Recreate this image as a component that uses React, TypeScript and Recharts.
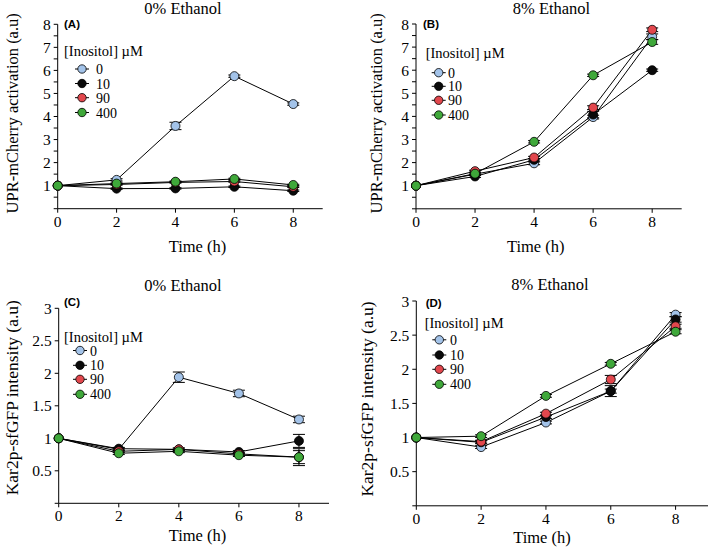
import { LineChart, Line, XAxis, YAxis, ErrorBar } from "recharts";

const times = [0, 2, 4, 6, 8];
const xTicks = [0, 2, 4, 6, 8];
const uprTicks = [0, 0.5, 1, 1.5, 2, 2.5, 3, 3.5, 4, 4.5, 5, 5.5, 6, 6.5, 7, 7.5, 8];
const karTicks = [0, 0.5, 1, 1.5, 2, 2.5, 3];

const inositolLabels = ["0", "10", "90", "400"];
const seriesColors = ["#a3c3e9", "#0a0a0a", "#e2474d", "#3fa83a"];

// panel A: UPR, 0% ethanol
const uprNoEth = [
  [1, 1.25, 3.59, 5.75, 4.54],
  [1, 0.87, 0.88, 0.95, 0.78],
  [1, 1.05, 1.14, 1.18, 0.95],
  [1, 1.09, 1.17, 1.29, 1.03],
];
const uprNoEthErr = [
  [0, 0.05, 0.16, 0.05, 0.05],
  [0, 0.03, 0.03, 0.03, 0.03],
  [0, 0.03, 0.03, 0.03, 0.03],
  [0, 0.03, 0.03, 0.03, 0.03],
];

// panel B: UPR, 8% ethanol
const uprEth = [
  [1, 1.5, 1.97, 3.97, 7.45],
  [1, 1.4, 2.12, 4.08, 6.0],
  [1, 1.63, 2.22, 4.38, 7.75],
  [1, 1.52, 2.9, 5.78, 7.22],
];
const uprEthErr = [
  [0, 0.05, 0.06, 0.08, 0.12],
  [0, 0.04, 0.05, 0.14, 0.05],
  [0, 0.04, 0.05, 0.08, 0.08],
  [0, 0.04, 0.05, 0.05, 0.1],
];

// panel C: Kar2p, 0% ethanol
const karNoEth = [
  [1, 0.83, 1.94, 1.69, 1.29],
  [1, 0.84, 0.83, 0.79, 0.96],
  [1, 0.8, 0.83, 0.76, 0.71],
  [1, 0.77, 0.8, 0.74, 0.71],
];
const karNoEthErr = [
  [0, 0.02, 0.08, 0.05, 0.05],
  [0, 0.02, 0.02, 0.02, 0.1],
  [0, 0.02, 0.02, 0.02, 0.1],
  [0, 0.02, 0.02, 0.02, 0.13],
];

// panel D: Kar2p, 8% ethanol
const karEth = [
  [1, 0.86, 1.22, 1.68, 2.8],
  [1, 0.93, 1.3, 1.68, 2.73],
  [1, 0.94, 1.35, 1.85, 2.63],
  [1, 1.02, 1.61, 2.08, 2.55],
];
const karEthErr = [
  [0, 0.02, 0.02, 0.03, 0.03],
  [0, 0.02, 0.02, 0.08, 0.04],
  [0, 0.02, 0.02, 0.06, 0.03],
  [0, 0.02, 0.02, 0.02, 0.03],
];

const serif = "Liberation Serif, DejaVu Serif, serif";
const tickStyle = { fontFamily: serif, fontSize: 15.5, fill: "#000" };

type PanelProps = {
  left: number;
  top: number;
  width: number;
  height: number;
  plotLeft: number;
  plotRight: number;
  plotTop: number;
  plotBottom: number;
  values: number[][];
  errors: number[][];
  yMax: number;
  yTicks: number[];
  wholeOnly: boolean;
};

function Panel(p: PanelProps) {
  const rows = times.map((t, i) => {
    const row: Record<string, number> = { t };
    p.values.forEach((s, k) => {
      row["s" + k] = s[i];
      row["e" + k] = p.errors[k][i];
    });
    return row;
  });

  const yAxisWidth = p.plotLeft - p.left;

  return (
    <div style={{ position: "absolute", left: p.left, top: p.top }}>
      <LineChart
        width={p.width}
        height={p.height}
        data={rows}
        style={{ fontFamily: serif }}
        margin={{
          top: p.plotTop - p.top,
          right: p.left + p.width - p.plotRight,
          bottom: p.top + p.height - p.plotBottom - 30,
          left: 0,
        }}
      >
        <XAxis
          dataKey="t"
          type="number"
          domain={[0, 9]}
          ticks={xTicks}
          interval={0}
          height={30}
          tickSize={4}
          tickMargin={3}
          tick={tickStyle}
          stroke="#000"
          tickLine={{ stroke: "#000" }}
        />
        <YAxis
          type="number"
          domain={[0, p.yMax]}
          ticks={p.yTicks}
          interval={0}
          width={yAxisWidth}
          tickSize={4}
          tickMargin={3}
          tick={tickStyle}
          stroke="#000"
          tickLine={{ stroke: "#000" }}
          tickFormatter={(v: number) =>
            v === 0 ? "" : p.wholeOnly ? (Number.isInteger(v) ? String(v) : "") : String(v)
          }
        />
        {p.values.map((_, k) => (
          <Line
            key={k}
            dataKey={"s" + k}
            name={inositolLabels[k]}
            type="linear"
            stroke="#000"
            strokeWidth={1}
            dot={{ r: 4.5, fill: seriesColors[k], stroke: "#000", strokeWidth: 0.8 }}
            isAnimationActive={false}
          >
            <ErrorBar dataKey={"e" + k} direction="y" width={6} stroke="#000" strokeWidth={1} />
          </Line>
        ))}
      </LineChart>
    </div>
  );
}

type LegendPos = { titleX: number; titleY: number; markX: number; textX: number; rowY: number[] };

function InositolLegend({ pos }: { pos: LegendPos }) {
  return (
    <g>
      <text x={pos.titleX} y={pos.titleY + 4.5} style={{ fontFamily: serif, fontSize: 14.5 }}>
        [Inositol] µM
      </text>
      {inositolLabels.map((lab, k) => (
        <g key={lab}>
          <line x1={pos.markX - 7} x2={pos.markX + 7} y1={pos.rowY[k]} y2={pos.rowY[k]} stroke="#000" />
          <circle cx={pos.markX} cy={pos.rowY[k]} r={4.2} fill={seriesColors[k]} stroke="#000" strokeWidth={0.8} />
          <text x={pos.textX} y={pos.rowY[k] + 5} style={{ fontFamily: serif, fontSize: 14 }}>
            {lab}
          </text>
        </g>
      ))}
    </g>
  );
}

export default function App() {
  return (
    <div style={{ position: "absolute", left: 0, top: 0, width: 709, height: 552, background: "#fff", fontFamily: serif }}>
      <Panel left={0} top={0} width={354} height={276} plotLeft={57.7} plotRight={322.7} plotTop={24.3} plotBottom={208.7}
        values={uprNoEth} errors={uprNoEthErr} yMax={8} yTicks={uprTicks} wholeOnly />
      <Panel left={354} top={0} width={355} height={276} plotLeft={416} plotRight={681.7} plotTop={24} plotBottom={208.8}
        values={uprEth} errors={uprEthErr} yMax={8} yTicks={uprTicks} wholeOnly />
      <Panel left={0} top={276} width={354} height={276} plotLeft={58.7} plotRight={329} plotTop={308.3} plotBottom={503.3}
        values={karNoEth} errors={karNoEthErr} yMax={3} yTicks={karTicks} wholeOnly={false} />
      <Panel left={354} top={276} width={355} height={276} plotLeft={416.3} plotRight={708} plotTop={301} plotBottom={505.8}
        values={karEth} errors={karEthErr} yMax={3} yTicks={karTicks} wholeOnly={false} />

      <svg width={709} height={552} style={{ position: "absolute", left: 0, top: 0, pointerEvents: "none" }}>
        <g style={{ fontFamily: serif, fontSize: 16.5 }} textAnchor="middle" fill="#000">
          <text x={183} y={14}>0% Ethanol</text>
          <text x={551.5} y={13.5}>8% Ethanol</text>
          <text x={183} y={291}>0% Ethanol</text>
          <text x={550} y={290.3}>8% Ethanol</text>

          <text x={197.5} y={252.3}>Time (h)</text>
          <text x={535.7} y={251.7}>Time (h)</text>
          <text x={197.5} y={541}>Time (h)</text>
          <text x={542} y={542.7}>Time (h)</text>

          <text transform="translate(18,113.3) rotate(-90)">UPR-mCherry activation (a.u)</text>
          <text transform="translate(382,113.3) rotate(-90)">UPR-mCherry activation (a.u)</text>
          <text style={{ fontSize: 17.5 }} transform="translate(17.5,397.7) rotate(-90)">Kar2p-sfGFP intensity (a.u)</text>
          <text style={{ fontSize: 17.5 }} transform="translate(373,399) rotate(-90)">Kar2p-sfGFP intensity (a.u)</text>
        </g>
        <g style={{ fontFamily: "Liberation Sans, Arial, sans-serif", fontWeight: "bold", fontSize: 11.5 }} fill="#000">
          <text x={64} y={28}>(A)</text>
          <text x={423} y={28}>(B)</text>
          <text x={64} y={305.5}>(C)</text>
          <text x={425.7} y={306.5}>(D)</text>
        </g>
        <InositolLegend pos={{ titleX: 64, titleY: 51.7, markX: 82, textX: 96, rowY: [69, 83.5, 97.7, 112.5] }} />
        <InositolLegend pos={{ titleX: 425.7, titleY: 53.3, markX: 438.7, textX: 448, rowY: [72.7, 86.3, 100.3, 115] }} />
        <InositolLegend pos={{ titleX: 64, titleY: 337.5, markX: 80, textX: 90, rowY: [350.5, 365.3, 379.3, 394.3] }} />
        <InositolLegend pos={{ titleX: 424.7, titleY: 323.7, markX: 439.3, textX: 450, rowY: [339.8, 355, 369.3, 384.3] }} />
      </svg>
    </div>
  );
}
